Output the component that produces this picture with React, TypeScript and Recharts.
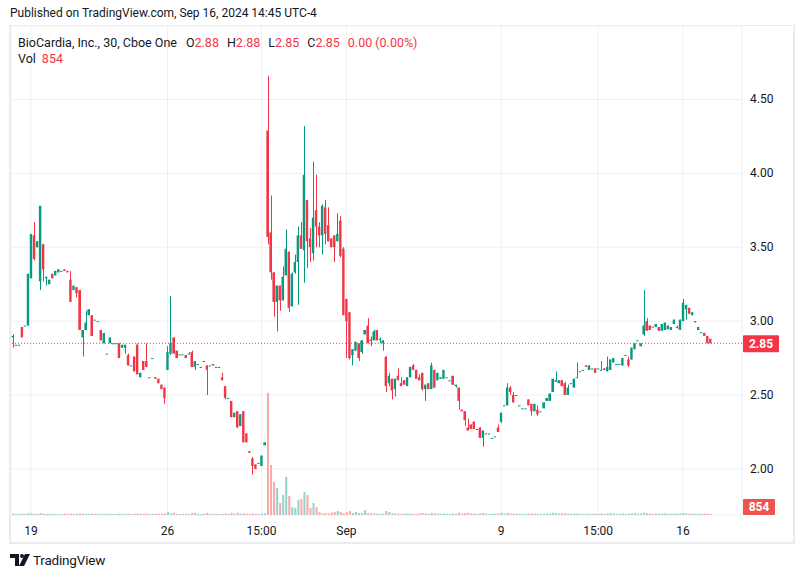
import React from 'react';
import { ComposedChart, Bar, XAxis, YAxis, CartesianGrid, ReferenceLine, Cell } from 'recharts';

const FONT = 'Roboto, "Noto Sans", sans-serif';
const TEXT = '#131722';
const UP = '#089981';
const DOWN = '#f23645';
const UP_VOL = '#92d2cc';
const DOWN_VOL = '#f7a9a7';

// 30-minute bars, Aug 16 – Sep 16 2024 (index = bar number)
const opens = [
  2.89, 2.84, 2.84, 2.96, 2.97, 2.97, 3.29, 3.58, 3.50, 3.27,
  3.52, 3.29, 3.25, 3.32, 3.31, 3.33, 3.34, 3.35, 3.34, 3.28,
  3.21, 3.23, 3.21, 2.89, 2.94, 3.04, 3.04, 3.01, 3.00, 2.94,
  2.85, 2.78, 2.85, 2.85, 2.85, 2.85, 2.82, 2.82, 2.77, 2.70,
  2.76, 2.84, 2.62, 2.73, 2.73, 2.62, 2.75, 2.62, 2.61, 2.57,
  2.55, 2.67, 2.78, 2.89, 2.80, 2.775, 2.775, 2.77, 2.78, 2.79,
  2.69, 2.71, 2.69, 2.73, 2.70, 2.70, 2.71, 2.69, 2.69, 2.62,
  2.56, 2.48, 2.46, 2.35, 2.39, 2.29, 2.39, 2.24, 2.12, 2.07,
  2.03, 2.04, 2.02, 2.16, 4.29, 3.60, 3.33, 3.13, 3.24, 3.14,
  3.31, 3.47, 3.10, 3.33, 3.40, 3.58, 3.48, 3.82, 3.56, 3.46,
  3.75, 3.64, 3.58, 3.77, 3.65, 3.56, 3.58, 3.54, 3.68, 3.49,
  3.15, 3.06, 2.77, 2.80, 2.85, 2.79, 2.91, 2.97, 2.875, 2.87,
  2.94, 2.875, 2.85, 2.76, 2.58, 2.61, 2.54, 2.63, 2.58, 2.60,
  2.56, 2.62, 2.70, 2.67, 2.62, 2.65, 2.54, 2.58, 2.54, 2.67,
  2.60, 2.61, 2.61, 2.62, 2.60, 2.63, 2.56, 2.55, 2.40, 2.39,
  2.28, 2.30, 2.32, 2.27, 2.28, 2.21, 2.24, 2.24, 2.21, 2.22,
  2.28, 2.32, 2.43, 2.43, 2.55, 2.50, 2.50, 2.43, 2.41, 2.41,
  2.47, 2.44, 2.39, 2.40, 2.39, 2.41, 2.46, 2.46, 2.52, 2.59,
  2.58, 2.60, 2.58, 2.50, 2.58, 2.55, 2.62, 2.66, 2.67, 2.70,
  2.67, 2.68, 2.68, 2.68, 2.67, 2.68, 2.66, 2.67, 2.72, 2.71,
  2.71, 2.70, 2.77, 2.74, 2.74, 2.81, 2.87, 2.83, 2.91, 3.00,
  2.97, 2.962, 2.96, 2.96, 2.935, 2.94, 2.945, 2.94, 2.98, 2.96,
  2.94, 3.00, 3.08, 3.09, 3.04, 3.00, 2.94, 2.925, 2.92, 2.90,
  2.88,
];

const highs = [
  2.91, 2.84, 2.84, 2.96, 2.97, 3.32, 3.59, 3.67, 3.54, 3.78,
  3.52, 3.30, 3.28, 3.32, 3.34, 3.35, 3.34, 3.35, 3.34, 3.34,
  3.24, 3.23, 3.21, 2.94, 3.07, 3.08, 3.04, 3.01, 3.00, 2.94,
  2.92, 2.78, 2.89, 2.85, 2.85, 2.85, 2.84, 2.84, 2.78, 2.70,
  2.76, 2.85, 2.65, 2.73, 2.85, 2.62, 2.75, 2.62, 2.61, 2.57,
  2.55, 2.83, 3.17, 2.89, 2.80, 2.775, 2.775, 2.77, 2.79, 2.80,
  2.73, 2.71, 2.69, 2.73, 2.70, 2.70, 2.71, 2.69, 2.69, 2.65,
  2.56, 2.48, 2.46, 2.38, 2.39, 2.37, 2.39, 2.24, 2.12, 2.08,
  2.03, 2.04, 2.09, 2.18, 4.66, 3.85, 3.33, 3.24, 3.24, 3.37,
  3.62, 3.47, 3.33, 3.45, 3.64, 3.67, 4.32, 3.82, 3.63, 4.08,
  3.99, 3.67, 3.79, 3.82, 3.77, 3.56, 3.58, 3.73, 3.71, 3.50,
  3.15, 3.06, 2.81, 2.86, 2.85, 2.87, 2.94, 3.02, 2.895, 2.94,
  2.94, 2.89, 2.87, 2.76, 2.65, 2.61, 2.61, 2.68, 2.62, 2.60,
  2.62, 2.69, 2.71, 2.67, 2.64, 2.65, 2.57, 2.58, 2.72, 2.67,
  2.65, 2.62, 2.67, 2.62, 2.60, 2.63, 2.57, 2.55, 2.40, 2.39,
  2.34, 2.30, 2.32, 2.27, 2.28, 2.26, 2.24, 2.24, 2.21, 2.22,
  2.30, 2.38, 2.43, 2.58, 2.56, 2.52, 2.50, 2.43, 2.41, 2.41,
  2.47, 2.44, 2.44, 2.43, 2.39, 2.45, 2.48, 2.51, 2.61, 2.66,
  2.60, 2.60, 2.59, 2.57, 2.58, 2.61, 2.72, 2.66, 2.67, 2.70,
  2.70, 2.68, 2.68, 2.68, 2.73, 2.68, 2.76, 2.74, 2.75, 2.71,
  2.71, 2.75, 2.77, 2.76, 2.82, 2.85, 2.87, 2.85, 3.21, 3.02,
  2.97, 2.962, 2.98, 2.96, 2.98, 2.99, 2.97, 2.96, 3.01, 2.97,
  3.01, 3.15, 3.11, 3.09, 3.06, 3.00, 2.96, 2.925, 2.92, 2.90,
  2.88,
];

const lows = [
  2.82, 2.84, 2.84, 2.89, 2.97, 2.97, 3.29, 3.41, 3.50, 3.21,
  3.27, 3.24, 3.25, 3.29, 3.31, 3.33, 3.34, 3.34, 3.33, 3.13,
  3.21, 3.16, 2.94, 2.76, 2.94, 3.04, 2.90, 3.01, 3.00, 2.87,
  2.85, 2.78, 2.85, 2.85, 2.85, 2.75, 2.82, 2.78, 2.70, 2.70,
  2.66, 2.64, 2.62, 2.67, 2.69, 2.62, 2.75, 2.61, 2.58, 2.54,
  2.44, 2.67, 2.77, 2.78, 2.75, 2.775, 2.775, 2.75, 2.78, 2.69,
  2.67, 2.71, 2.69, 2.73, 2.50, 2.70, 2.70, 2.69, 2.69, 2.60,
  2.47, 2.48, 2.35, 2.35, 2.28, 2.29, 2.18, 2.18, 2.11, 1.96,
  2.00, 2.04, 2.02, 2.16, 3.52, 3.28, 3.03, 2.93, 3.07, 3.14,
  3.31, 3.06, 3.10, 3.32, 3.11, 3.49, 3.26, 3.36, 3.40, 3.41,
  3.50, 3.50, 3.45, 3.52, 3.54, 3.50, 3.40, 3.54, 3.43, 3.04,
  2.75, 2.74, 2.70, 2.80, 2.73, 2.78, 2.91, 2.85, 2.83, 2.87,
  2.87, 2.85, 2.80, 2.52, 2.56, 2.47, 2.49, 2.60, 2.56, 2.57,
  2.56, 2.62, 2.67, 2.61, 2.60, 2.53, 2.46, 2.54, 2.54, 2.55,
  2.60, 2.61, 2.61, 2.62, 2.60, 2.57, 2.55, 2.40, 2.39, 2.29,
  2.26, 2.27, 2.27, 2.27, 2.21, 2.15, 2.24, 2.24, 2.21, 2.22,
  2.25, 2.31, 2.43, 2.43, 2.50, 2.45, 2.50, 2.43, 2.41, 2.41,
  2.43, 2.36, 2.39, 2.36, 2.39, 2.41, 2.46, 2.46, 2.52, 2.59,
  2.58, 2.56, 2.50, 2.50, 2.58, 2.55, 2.62, 2.66, 2.67, 2.69,
  2.67, 2.68, 2.65, 2.68, 2.67, 2.67, 2.66, 2.67, 2.72, 2.71,
  2.71, 2.70, 2.77, 2.69, 2.74, 2.81, 2.87, 2.83, 2.90, 2.935,
  2.94, 2.958, 2.96, 2.935, 2.935, 2.94, 2.945, 2.94, 2.98, 2.95,
  2.94, 3.00, 3.01, 3.05, 3.04, 2.99, 2.94, 2.925, 2.90, 2.85,
  2.85,
];

const closes = [
  2.90, 2.84, 2.84, 2.89, 2.97, 3.32, 3.59, 3.42, 3.54, 3.78,
  3.35, 3.30, 3.28, 3.29, 3.34, 3.35, 3.34, 3.34, 3.33, 3.13,
  3.24, 3.19, 2.94, 2.94, 2.99, 3.08, 2.90, 3.01, 3.00, 2.87,
  2.92, 2.78, 2.89, 2.85, 2.85, 2.75, 2.84, 2.84, 2.70, 2.70,
  2.66, 2.64, 2.65, 2.67, 2.69, 2.62, 2.75, 2.61, 2.58, 2.54,
  2.48, 2.79, 2.85, 2.78, 2.75, 2.775, 2.775, 2.75, 2.78, 2.69,
  2.73, 2.71, 2.69, 2.73, 2.67, 2.70, 2.70, 2.69, 2.69, 2.60,
  2.48, 2.48, 2.35, 2.38, 2.28, 2.37, 2.18, 2.18, 2.11, 2.02,
  2.00, 2.04, 2.09, 2.18, 3.57, 3.33, 3.13, 3.24, 3.14, 3.30,
  3.49, 3.09, 3.32, 3.40, 3.58, 3.49, 3.99, 3.54, 3.50, 3.70,
  3.64, 3.58, 3.78, 3.59, 3.54, 3.50, 3.50, 3.59, 3.44, 3.04,
  3.00, 2.75, 2.81, 2.86, 2.75, 2.87, 2.94, 2.85, 2.865, 2.93,
  2.87, 2.88, 2.87, 2.56, 2.63, 2.53, 2.61, 2.60, 2.56, 2.57,
  2.62, 2.69, 2.67, 2.61, 2.60, 2.54, 2.57, 2.54, 2.70, 2.55,
  2.65, 2.62, 2.67, 2.62, 2.60, 2.57, 2.57, 2.46, 2.39, 2.33,
  2.26, 2.27, 2.27, 2.27, 2.21, 2.26, 2.24, 2.24, 2.21, 2.22,
  2.25, 2.38, 2.43, 2.55, 2.52, 2.45, 2.50, 2.43, 2.41, 2.41,
  2.43, 2.39, 2.44, 2.37, 2.39, 2.45, 2.48, 2.51, 2.61, 2.60,
  2.60, 2.56, 2.50, 2.55, 2.58, 2.61, 2.62, 2.66, 2.67, 2.69,
  2.70, 2.68, 2.65, 2.68, 2.67, 2.67, 2.69, 2.74, 2.75, 2.71,
  2.71, 2.75, 2.77, 2.70, 2.82, 2.85, 2.87, 2.85, 2.97, 2.935,
  2.94, 2.958, 2.98, 2.935, 2.98, 2.99, 2.97, 2.96, 3.01, 2.96,
  3.01, 3.125, 3.11, 3.05, 3.06, 3.00, 2.96, 2.925, 2.90, 2.85,
  2.85,
];

const volumes = [
  1100, 900, 800, 1200, 900, 1400, 1300, 1100, 900, 1500,
  1200, 900, 1000, 800, 1000, 900, 800, 1000, 900, 1200,
  900, 1000, 1300, 1100, 1000, 900, 1200, 800, 900, 1000,
  1100, 900, 1000, 800, 900, 1200, 1000, 900, 1100, 800,
  1000, 1300, 900, 1000, 1100, 800, 900, 1000, 1000, 1100,
  1300, 2600, 1200, 1800, 1000, 800, 900, 1000, 900, 1800,
  1800, 900, 800, 1000, 1800, 900, 1000, 900, 800, 1100,
  1200, 900, 1800, 1000, 1800, 1100, 1300, 1200, 900, 1300,
  1100, 900, 1200, 1400, 100000, 40900, 27000, 22100, 9800, 16400,
  31100, 15500, 6500, 5700, 12300, 13100, 18800, 16400, 5700, 9800,
  6500, 2500, 1200, 1600, 1200, 2000, 2500, 3300, 2500, 1600,
  2500, 3300, 1600, 2400, 1600, 1600, 4100, 1600, 1300, 1200,
  1200, 1000, 1000, 3300, 2500, 1600, 1200, 1100, 1000, 1300,
  1100, 1200, 1000, 900, 1300, 1600, 1100, 1000, 1800, 1400,
  1100, 900, 1200, 1000, 900, 1300, 1000, 1800, 1100, 1600,
  1800, 1200, 1300, 900, 1400, 1600, 1000, 900, 1000, 1100,
  1300, 1800, 1000, 1600, 1200, 1300, 900, 1000, 900, 1000,
  1200, 1300, 1100, 1000, 900, 1100, 1200, 1300, 1800, 1500,
  1200, 1400, 1300, 1100, 900, 1300, 1200, 1000, 900, 1100,
  1000, 900, 1100, 1000, 1200, 1000, 1300, 1500, 1200, 900,
  1000, 1200, 900, 1100, 1400, 1600, 1000, 1100, 1800, 1600,
  1200, 1000, 1300, 1100, 1200, 1400, 1000, 1100, 1300, 1000,
  1300, 1600, 1200, 1100, 1000, 1200, 1100, 1000, 1100, 1000,
  854,
];

const priceTicks = [2, 2.5, 3, 3.5, 4, 4.5];
const timeTicks = [6, 51, 82, 110, 161, 193, 221];
const timeLabels = ['19', '26', '15:00', 'Sep', '9', '15:00', '16'];

const lastPrice = 2.85;
const lastVolume = 854;

const PRICE_MIN = 1.688;
const PRICE_MAX = 4.997;
const VOL_MAX = 400000;
const X_MIN = -0.6;
const X_MAX = 240.45;

const renderCandle = (props: any) => {
  const { x, y, width, height, payload } = props;
  const { open, high, low, close } = payload;
  const toY = (p: number) => y + (height * (high - p)) / (high - PRICE_MIN);
  const color = close >= open ? UP : DOWN;
  const mid = x + width / 2;
  const wx = Math.round(mid) + 0.5;
  const top = Math.min(toY(open), toY(close));
  const bodyH = Math.max(1, Math.abs(toY(open) - toY(close)));
  return (
    <g>
      <line x1={wx} x2={wx} y1={toY(high)} y2={toY(low)} stroke={color} strokeWidth={1} />
      <rect x={mid - 1.2} y={top} width={2.4} height={bodyH} fill={color} />
    </g>
  );
};

const PriceTick = (props: any) => {
  const { x, y, payload } = props;
  return (
    <text x={x + 6} y={y + 4} fontSize={12} fill={TEXT} fontFamily={FONT} textAnchor="start">
      {payload.value.toFixed(2)}
    </text>
  );
};

const TimeTick = (props: any) => {
  const { x, y, payload } = props;
  const k = timeTicks.indexOf(payload.value);
  return (
    <text x={x} y={y + 18} fontSize={12} fill={TEXT} fontFamily={FONT} textAnchor="middle">
      {timeLabels[k]}
    </text>
  );
};

const PriceLabel = (props: any) => {
  const { viewBox } = props;
  const lx = viewBox.x + viewBox.width + 1;
  return (
    <g>
      <rect x={lx} y={viewBox.y - 8} width={36} height={17} rx={1} fill={DOWN} />
      <text x={lx + 18} y={viewBox.y + 4.5} fontSize={12} fontWeight={700} fill="#fff" fontFamily={FONT} textAnchor="middle">
        {lastPrice.toFixed(2)}
      </text>
    </g>
  );
};

const VolumeLabel = (props: any) => {
  const { viewBox } = props;
  const lx = viewBox.x + viewBox.width + 1;
  return (
    <g>
      <rect x={lx} y={viewBox.y - 16} width={32} height={16} rx={1} fill="#ef5350" />
      <text x={lx + 16} y={viewBox.y - 4} fontSize={12} fontWeight={700} fill="#fff" fontFamily={FONT} textAnchor="middle">
        {lastVolume}
      </text>
    </g>
  );
};

const red = { color: DOWN };

export default function App() {
  const rows = opens.map((o, i) => ({
    i,
    open: o,
    high: highs[i],
    low: lows[i],
    close: closes[i],
    volume: volumes[i],
  }));

  return (
    <div style={{ position: 'absolute', left: 0, top: 0, width: 804, height: 578, background: '#fff', fontFamily: FONT, color: TEXT, overflow: 'hidden' }}>
      <div style={{ position: 'absolute', left: 10, top: 6, fontSize: 12, whiteSpace: 'nowrap' }}>
        Published on TradingView.com, Sep 16, 2024 14:45 UTC-4
      </div>
      <div style={{ position: 'absolute', left: 9, top: 25, width: 786, height: 519, boxSizing: 'border-box', border: '2px solid #e9ebef', borderTopWidth: 1 }} />

      <ComposedChart
        width={804}
        height={578}
        data={rows}
        margin={{ top: 26, right: 10, bottom: 35, left: 11 }}
        style={{ position: 'absolute', left: 0, top: 0 }}
      >
        <CartesianGrid stroke="#eef0f3" />
        <XAxis
          dataKey="i"
          type="number"
          domain={[X_MIN, X_MAX]}
          ticks={timeTicks}
          interval={0}
          tickLine={false}
          axisLine={false}
          tickSize={0}
          tick={<TimeTick />}
          height={28}
          allowDataOverflow
        />
        <XAxis xAxisId="v" dataKey="i" type="number" domain={[X_MIN, X_MAX]} hide allowDataOverflow />
        <YAxis
          orientation="right"
          type="number"
          domain={[PRICE_MIN, PRICE_MAX]}
          ticks={priceTicks}
          interval={0}
          tickLine={false}
          axisLine={false}
          tickSize={0}
          width={52}
          tick={<PriceTick />}
          allowDataOverflow
        />
        <YAxis yAxisId="v" type="number" domain={[0, VOL_MAX]} hide allowDataOverflow />

        <Bar xAxisId="v" yAxisId="v" dataKey="volume" barSize={2} isAnimationActive={false}>
          {rows.map((r) => (
            <Cell key={r.i} fill={r.close >= r.open ? UP_VOL : DOWN_VOL} />
          ))}
        </Bar>
        <Bar dataKey="high" barSize={3} shape={renderCandle} isAnimationActive={false} />

        <ReferenceLine y={lastPrice} stroke={DOWN} strokeDasharray="1 2" label={<PriceLabel />} />
        <ReferenceLine xAxisId="v" yAxisId="v" y={0} stroke="none" label={<VolumeLabel />} />
      </ComposedChart>

      <div style={{ position: 'absolute', left: 18, top: 35, fontSize: 12.5, whiteSpace: 'nowrap' }}>
        BioCardia, Inc., 30, Cboe One
        <span style={{ marginLeft: 9 }}>O</span><span style={red}>2.88</span>
        <span style={{ marginLeft: 8 }}>H</span><span style={red}>2.88</span>
        <span style={{ marginLeft: 8 }}>L</span><span style={red}>2.85</span>
        <span style={{ marginLeft: 8 }}>C</span><span style={red}>2.85</span>
        <span style={{ ...red, marginLeft: 8 }}>0.00 (0.00%)</span>
      </div>
      <div style={{ position: 'absolute', left: 18, top: 51, fontSize: 12.5, whiteSpace: 'nowrap' }}>
        Vol<span style={{ ...red, marginLeft: 6 }}>854</span>
      </div>

      <svg width={24} height={14} style={{ position: 'absolute', left: 9, top: 553 }}>
        <path d="M1 1 H10 V13 H6 V5 H1 Z" fill={TEXT} />
        <circle cx={13} cy={3} r={2} fill={TEXT} />
        <path d="M16 1 H21 L15 13 H10 Z" fill={TEXT} />
      </svg>
      <div style={{ position: 'absolute', left: 33, top: 552, fontSize: 13.5, whiteSpace: 'nowrap', letterSpacing: -0.2 }}>
        TradingView
      </div>
    </div>
  );
}
